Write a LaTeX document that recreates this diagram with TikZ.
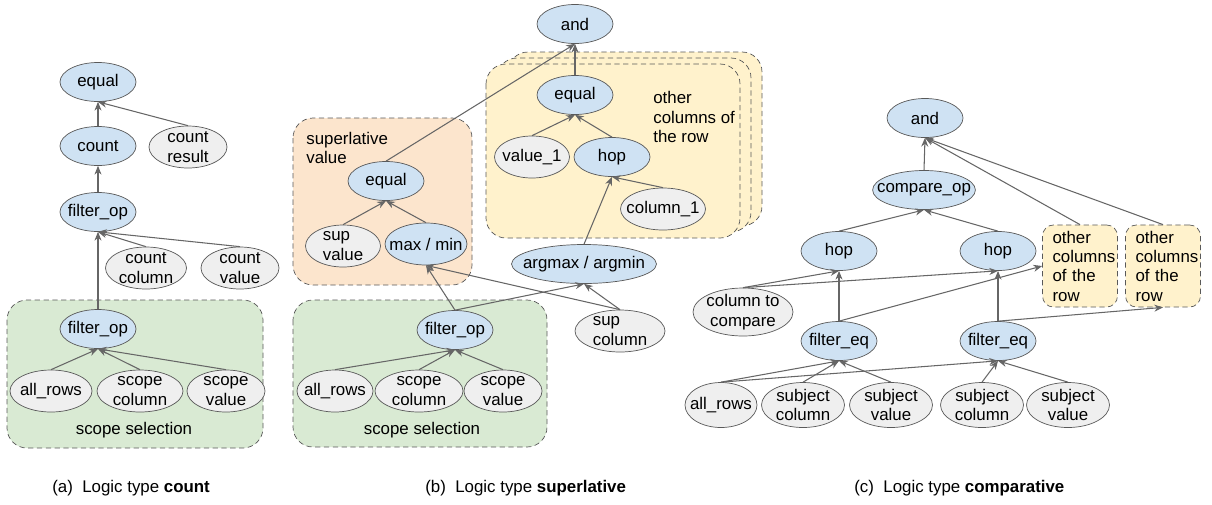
\documentclass[tikz,border=0pt]{standalone}
\usepackage{fontspec}
\setmainfont{Liberation Sans}
\usetikzlibrary{arrows.meta, shapes.geometric, positioning}

\definecolor{opblue}{HTML}{CFE2F3}
\definecolor{arggray}{HTML}{EFEFEF}
\definecolor{selgreen}{HTML}{D9EAD3}
\definecolor{supbeige}{HTML}{FCE5CD}
\definecolor{rowyellow}{HTML}{FFF2CC}
\definecolor{rimgray}{HTML}{595959}
\definecolor{edgegray}{HTML}{666666}

\begin{document}
\begin{tikzpicture}[x=0.02cm, y=-0.02cm, font=\fontsize{9.6}{11}\selectfont,
  >={Stealth[length=5pt,width=4pt]}]
\tikzstyle{op}=[ellipse, draw=rimgray, fill=opblue, minimum width=1.52cm, minimum height=0.78cm, inner xsep=-6pt, inner ysep=-3pt, align=center]
\tikzstyle{arg}=[op, fill=arggray, minimum width=1.56cm, minimum height=0.84cm]
\tikzstyle{group}=[draw=rimgray, dash pattern=on 3pt off 2pt, rounded corners=0.4cm]
\tikzstyle{otherbox}=[group, fill=rowyellow, rounded corners=0.22cm, minimum height=1.64cm, text width=1.1cm, inner xsep=0.2cm, align=left]
\tikzstyle{note}=[inner sep=0pt, align=left]
\tikzstyle{dep}=[->, semithick, draw=edgegray]
\tikzstyle{caption}=[inner sep=0pt, anchor=west]

\useasboundingbox (0,0) rectangle (1212,504);

% (a) count
\draw[group, fill=selgreen] (7,300) rectangle (263,448);
\node[op] (equa) at (98,82) {equal};
\node[op] (count) at (98,146) {count};
\node[arg] (cres) at (188,147) {count\\result};
\node[op] (fo1) at (98,212) {filter\_op};
\node[arg, minimum width=1.62cm] (ccol) at (146,268) {count\\column};
\node[arg] (cval) at (240,268) {count\\value};
\node[op] (fo2) at (98,329) {filter\_op};
\node[arg, minimum width=1.64cm] (allr) at (51,391) {all\_rows};
\node[arg, minimum width=1.72cm] (scol) at (140,391) {scope\\column};
\node[arg] (sval) at (226,391) {scope\\value};
\node (sela) at (134,430) {scope selection};

\path
  (count.north) edge[dep] (equa.south)
  (cres.north) edge[dep] (equa.south)
  (fo1.north) edge[dep] (count.south)
  (ccol.north) edge[dep] (fo1.south)
  (cval.north) edge[dep] (fo1.south)
  (fo2.north) edge[dep] (fo1.south)
  (allr.north) edge[dep] (fo2.south)
  (scol.north) edge[dep] (fo2.south)
  (sval.north) edge[dep] (fo2.south);

% (b) superlative
\draw[group, fill=supbeige] (293,118) rectangle (472,285);
\draw[group, fill=selgreen] (293,300) rectangle (547,447);
\draw[group, fill=rowyellow] (508,52) rectangle (762,226);
\draw[group, fill=rowyellow] (497,58) rectangle (751,232);
\draw[group, fill=rowyellow] (486,64) rectangle (740,238);

\node[op] (andb) at (575,24) {and};
\node[op] (eqy) at (575,95) {equal};
\node[note, anchor=west] (ocb) at (653,117) {other\\columns of\\the row};
\node[arg, minimum width=1.5cm] (val1) at (532,157) {value\_1};
\node[op] (hopb) at (612,157) {hop};
\node[arg, minimum width=1.7cm] (col1) at (663,209) {column\_1};
\node[op, minimum width=2.9cm] (argm) at (584,264) {argmax / argmin};
\node[note, anchor=west] (supl) at (306,148) {superlative\\value};
\node[op] (eqo) at (386,181) {equal};
\node[arg, align=left, minimum width=1.5cm] (supv) at (343,246) {sup\\value};
\node[op, minimum width=1.64cm, minimum height=0.84cm] (maxmin) at (426,244) {max / min};
\node[op] (fob) at (455,330) {filter\_op};
\node[arg, align=left, minimum width=1.8cm] (supc) at (620,331) {sup\\column};
\node[arg, minimum width=1.52cm] (allrb) at (335,391) {all\_rows};
\node[arg, minimum width=1.76cm] (scolb) at (419,391) {scope\\column};
\node[arg] (svalb) at (503,391) {scope\\value};
\node (selb) at (422,430) {scope selection};

\path
  (eqy.north) edge[dep] (andb.south)
  (eqo.north) edge[dep] (andb.south)
  (val1.north) edge[dep] (eqy.south)
  (hopb.north) edge[dep] (eqy.south)
  (col1.north) edge[dep] (hopb.south)
  (argm.north) edge[dep] (hopb.south)
  (supv.north) edge[dep] (eqo.south)
  (maxmin.north) edge[dep] (eqo.south)
  (fob.north) edge[dep] (maxmin.south)
  (fob.north) edge[dep] (argm.south)
  (supc.north) edge[dep] (argm.south)
  (supc.north) edge[dep] (maxmin.south)
  (allrb.north) edge[dep] (fob.south)
  (scolb.north) edge[dep] (fob.south)
  (svalb.north) edge[dep] (fob.south);

% (c) comparative
\node[op] (andc) at (925,118) {and};
\node[op] (cmp) at (924,190) {compare\_op};
\node[op] (hop1) at (839,251) {hop};
\node[op] (hop2) at (998,251) {hop};
\node[otherbox] (oc1) at (1080,266) {other\\columns\\of the\\row};
\node[otherbox] (oc2) at (1163,266) {other\\columns\\of the\\row};
\node[arg, minimum width=2cm, minimum height=0.96cm] (ctc) at (743,312) {column to\\compare};
\node[op] (fe1) at (839,341) {filter\_eq};
\node[op] (fe2) at (998,341) {filter\_eq};
\node[arg, minimum width=1.44cm, minimum height=0.9cm] (allrc) at (721,405) {all\_rows};
\node[arg, minimum width=1.66cm, minimum height=0.9cm] (scol1) at (803,405) {subject\\column};
\node[arg, minimum width=1.66cm, minimum height=0.9cm] (sval1) at (891,405) {subject\\value};
\node[arg, minimum width=1.66cm, minimum height=0.9cm] (scol2) at (982,405) {subject\\column};
\node[arg, minimum width=1.66cm, minimum height=0.9cm] (sval2) at (1068,405) {subject\\value};

\path
  (cmp.north) edge[dep] (andc.south)
  (oc1.north) edge[dep] (andc.south)
  (oc2.north) edge[dep] (andc.south)
  (hop1.north) edge[dep] (cmp.south)
  (hop2.north) edge[dep] (cmp.south)
  (ctc.north) edge[dep] (hop1.south)
  (ctc.north) edge[dep] (hop2.south)
  (fe1.north) edge[dep] (hop1.south)
  (fe1.north) edge[dep] (oc1.west)
  (fe2.north) edge[dep] (hop2.south)
  (fe2.north) edge[dep] (oc2.south)
  (allrc.north) edge[dep] (fe1.south)
  (allrc.north) edge[dep] (fe2.south)
  (scol1.north) edge[dep] (fe1.south)
  (sval1.north) edge[dep] (fe1.south)
  (scol2.north) edge[dep] (fe2.south)
  (sval2.north) edge[dep] (fe2.south);

% captions
\node[caption] (capa) at (52,488) {(a)\ \ Logic type \textbf{count}};
\node[caption] (capb) at (425,488) {(b)\ \ Logic type \textbf{superlative}};
\node[caption] (capc) at (854,488) {(c)\ \ Logic type \textbf{comparative}};
\end{tikzpicture}
\end{document}
